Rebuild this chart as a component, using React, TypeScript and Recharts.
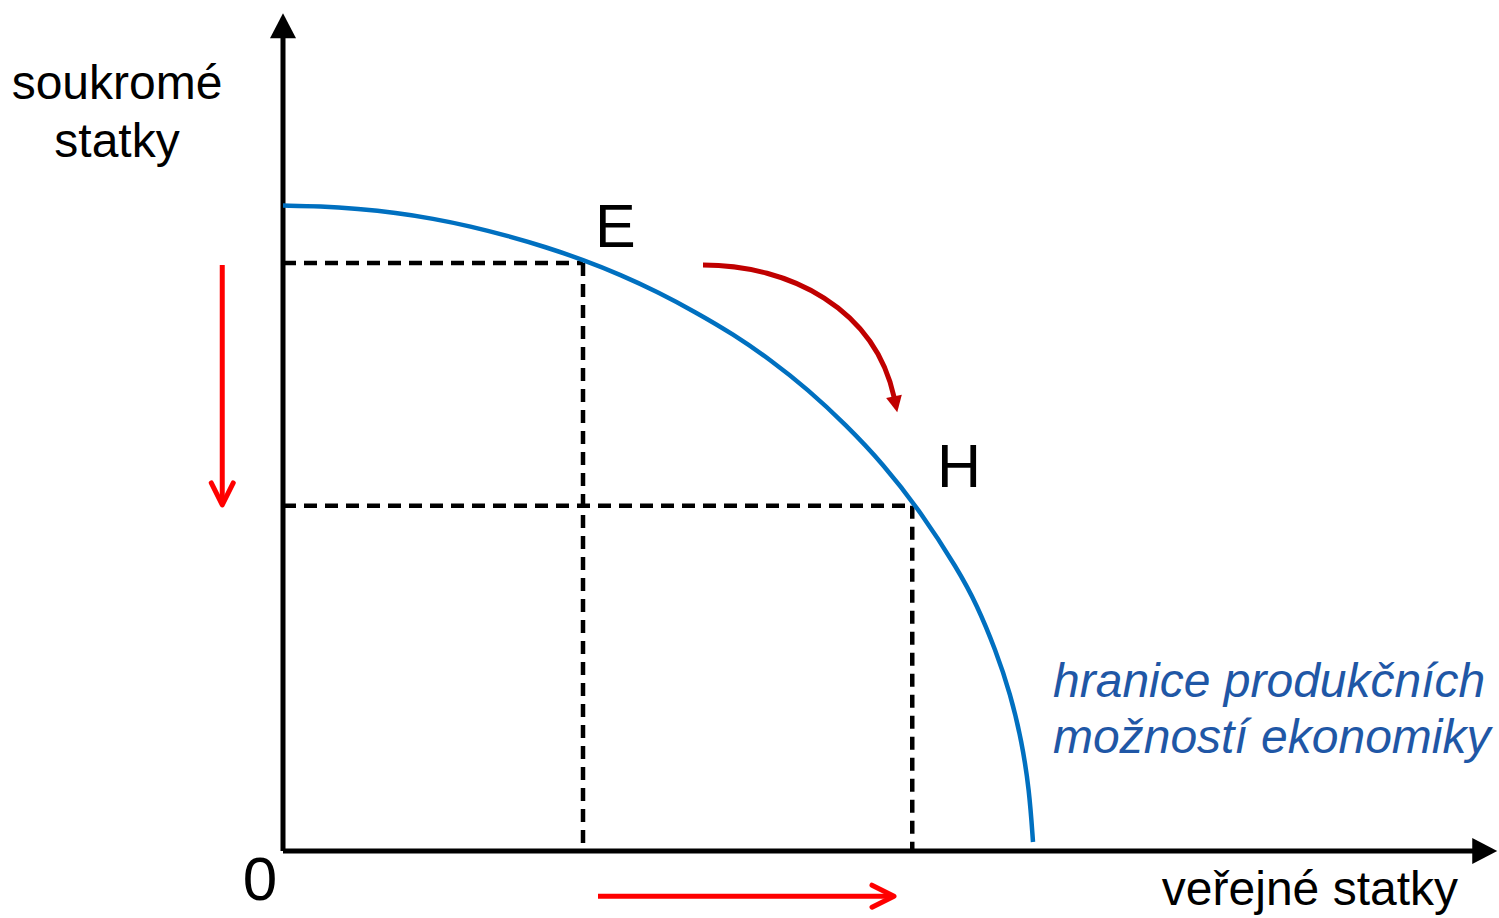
import React from "react";
import { LineChart, Line, XAxis, YAxis, ReferenceLine } from "recharts";

// production possibility frontier (x = public goods, y = private goods)
const frontier = [
  { x: 0, y: 10.0 },
  { x: 0.5, y: 9.99 },
  { x: 1, y: 9.95 },
  { x: 1.5, y: 9.89 },
  { x: 2, y: 9.8 },
  { x: 2.5, y: 9.68 },
  { x: 3, y: 9.53 },
  { x: 3.5, y: 9.36 },
  { x: 4, y: 9.16 },
  { x: 4.5, y: 8.93 },
  { x: 5, y: 8.66 },
  { x: 5.5, y: 8.35 },
  { x: 6, y: 8.01 },
  { x: 6.5, y: 7.61 },
  { x: 7, y: 7.15 },
  { x: 7.5, y: 6.61 },
  { x: 8, y: 6.0 },
  { x: 8.5, y: 5.26 },
  { x: 9, y: 4.36 },
  { x: 9.25, y: 3.82 },
  { x: 9.5, y: 3.12 },
  { x: 9.7, y: 2.43 },
  { x: 9.85, y: 1.7 },
  { x: 9.95, y: 0.95 },
  { x: 10.0, y: 0.14 },
];

const pointE = { x: 4.0, y: 9.11 };
const pointH = { x: 8.39, y: 5.35 };

const xMax = 16.2;
const yMax = 13;
const axisEnds = { x: 16.19, y: 12.98 };

const privateArrow = { x: -0.81, from: 9.08, to: 5.3 };
const publicArrow = { y: -0.7, from: 4.2, to: 8.2 };
const moveArrow = { from: { x: 5.6, y: 9.08 }, to: { x: 8.19, y: 6.8 } };

const FONT = "'Liberation Sans', Arial, sans-serif";

function AxisArrow(props: any) {
  const { x1, y1, x2, y2 } = props;
  const len = Math.hypot(x2 - x1, y2 - y1);
  const ux = (x2 - x1) / len;
  const uy = (y2 - y1) / len;
  const bx = x2 - ux * 25;
  const by = y2 - uy * 25;
  const px = -uy * 13;
  const py = ux * 13;
  return (
    <g>
      <line x1={x1} y1={y1} x2={bx + ux * 2} y2={by + uy * 2} stroke="#000" strokeWidth={5} />
      <polygon points={`${x2},${y2} ${bx + px},${by + py} ${bx - px},${by - py}`} fill="#000" />
    </g>
  );
}

function ChevronArrow(props: any) {
  const { x1, y1, x2, y2 } = props;
  const len = Math.hypot(x2 - x1, y2 - y1);
  const ux = (x2 - x1) / len;
  const uy = (y2 - y1) / len;
  const tx = x2 - ux * 4;
  const ty = y2 - uy * 4;
  const bx = tx - ux * 22;
  const by = ty - uy * 22;
  const px = -uy * 11;
  const py = ux * 11;
  return (
    <g stroke="#ff0000" strokeWidth={5} fill="none">
      <line x1={x1} y1={y1} x2={tx - ux * 2} y2={ty - uy * 2} />
      <polyline
        points={`${bx + px},${by + py} ${tx},${ty} ${bx - px},${by - py}`}
        strokeLinecap="round"
        strokeLinejoin="round"
      />
    </g>
  );
}

function CurvedArrow(props: any) {
  const { x1, y1, x2, y2 } = props;
  const dx = x2 - x1;
  const dy = y2 - y1;
  const c1x = x1 + 0.45 * dx;
  const c1y = y1;
  const c2x = x1 + 0.885 * dx;
  const c2y = y1 + 0.3 * dy;
  const vx = 18;
  const vy = 86;
  const l = Math.hypot(vx, vy);
  const ux = vx / l;
  const uy = vy / l;
  const bx = x2 - ux * 16;
  const by = y2 - uy * 16;
  const px = -uy * 8;
  const py = ux * 8;
  return (
    <g>
      <path
        d={`M${x1},${y1} C${c1x},${c1y} ${c2x},${c2y} ${bx + ux},${by + uy}`}
        stroke="#c00000"
        strokeWidth={5}
        fill="none"
      />
      <polygon points={`${x2},${y2} ${bx + px},${by + py} ${bx - px},${by - py}`} fill="#c00000" />
    </g>
  );
}

const dash = { stroke: "#000", strokeWidth: 4.5, strokeDasharray: "13 8" };

export default function App() {
  return (
    <div style={{ position: "absolute", left: 0, top: 0, background: "#fff" }}>
      <LineChart
        width={1499}
        height={918}
        data={frontier}
        margin={{ top: 12, right: 1, bottom: 67, left: 283 }}
      >
        <XAxis type="number" dataKey="x" domain={[0, xMax]} hide />
        <YAxis type="number" domain={[0, yMax]} hide />

        <ReferenceLine segment={[{ x: 0, y: pointE.y }, { x: pointE.x, y: pointE.y }]} {...dash} />
        <ReferenceLine segment={[{ x: pointE.x, y: pointE.y }, { x: pointE.x, y: 0 }]} {...dash} />
        <ReferenceLine segment={[{ x: 0, y: pointH.y }, { x: pointH.x, y: pointH.y }]} {...dash} />
        <ReferenceLine segment={[{ x: pointH.x, y: pointH.y }, { x: pointH.x, y: 0 }]} {...dash} />

        <ReferenceLine
          segment={[{ x: 0, y: 0 }, { x: axisEnds.x, y: 0 }]}
          ifOverflow="visible"
          shape={AxisArrow}
        />
        <ReferenceLine
          segment={[{ x: 0, y: 0 }, { x: 0, y: axisEnds.y }]}
          ifOverflow="visible"
          shape={AxisArrow}
        />

        <ReferenceLine
          segment={[{ x: privateArrow.x, y: privateArrow.from }, { x: privateArrow.x, y: privateArrow.to }]}
          ifOverflow="visible"
          shape={ChevronArrow}
        />
        <ReferenceLine
          segment={[{ x: publicArrow.from, y: publicArrow.y }, { x: publicArrow.to, y: publicArrow.y }]}
          ifOverflow="visible"
          shape={ChevronArrow}
        />
        <ReferenceLine
          segment={[moveArrow.from, moveArrow.to]}
          ifOverflow="visible"
          shape={CurvedArrow}
        />

        <Line
          type="basis"
          dataKey="y"
          stroke="#0070c0"
          strokeWidth={4.5}
          dot={false}
          activeDot={false}
          isAnimationActive={false}
        />

        <g fontFamily={FONT} fill="#000">
          <text x={117} y={99} fontSize={48} textAnchor="middle">soukromé</text>
          <text x={117} y={157} fontSize={48} textAnchor="middle">statky</text>
          <text x={260} y={900} fontSize={62} textAnchor="middle">0</text>
          <text x={595} y={247} fontSize={61}>E</text>
          <text x={937} y={487} fontSize={61}>H</text>
          <text x={1458} y={905} fontSize={48} textAnchor="end">veřejné statky</text>
          <text x={1053} y={697} fontSize={48} fontStyle="italic" fill="#1f57a6">hranice produkčních</text>
          <text x={1053} y={753} fontSize={48} fontStyle="italic" fill="#1f57a6">možností ekonomiky</text>
        </g>
      </LineChart>
    </div>
  );
}
